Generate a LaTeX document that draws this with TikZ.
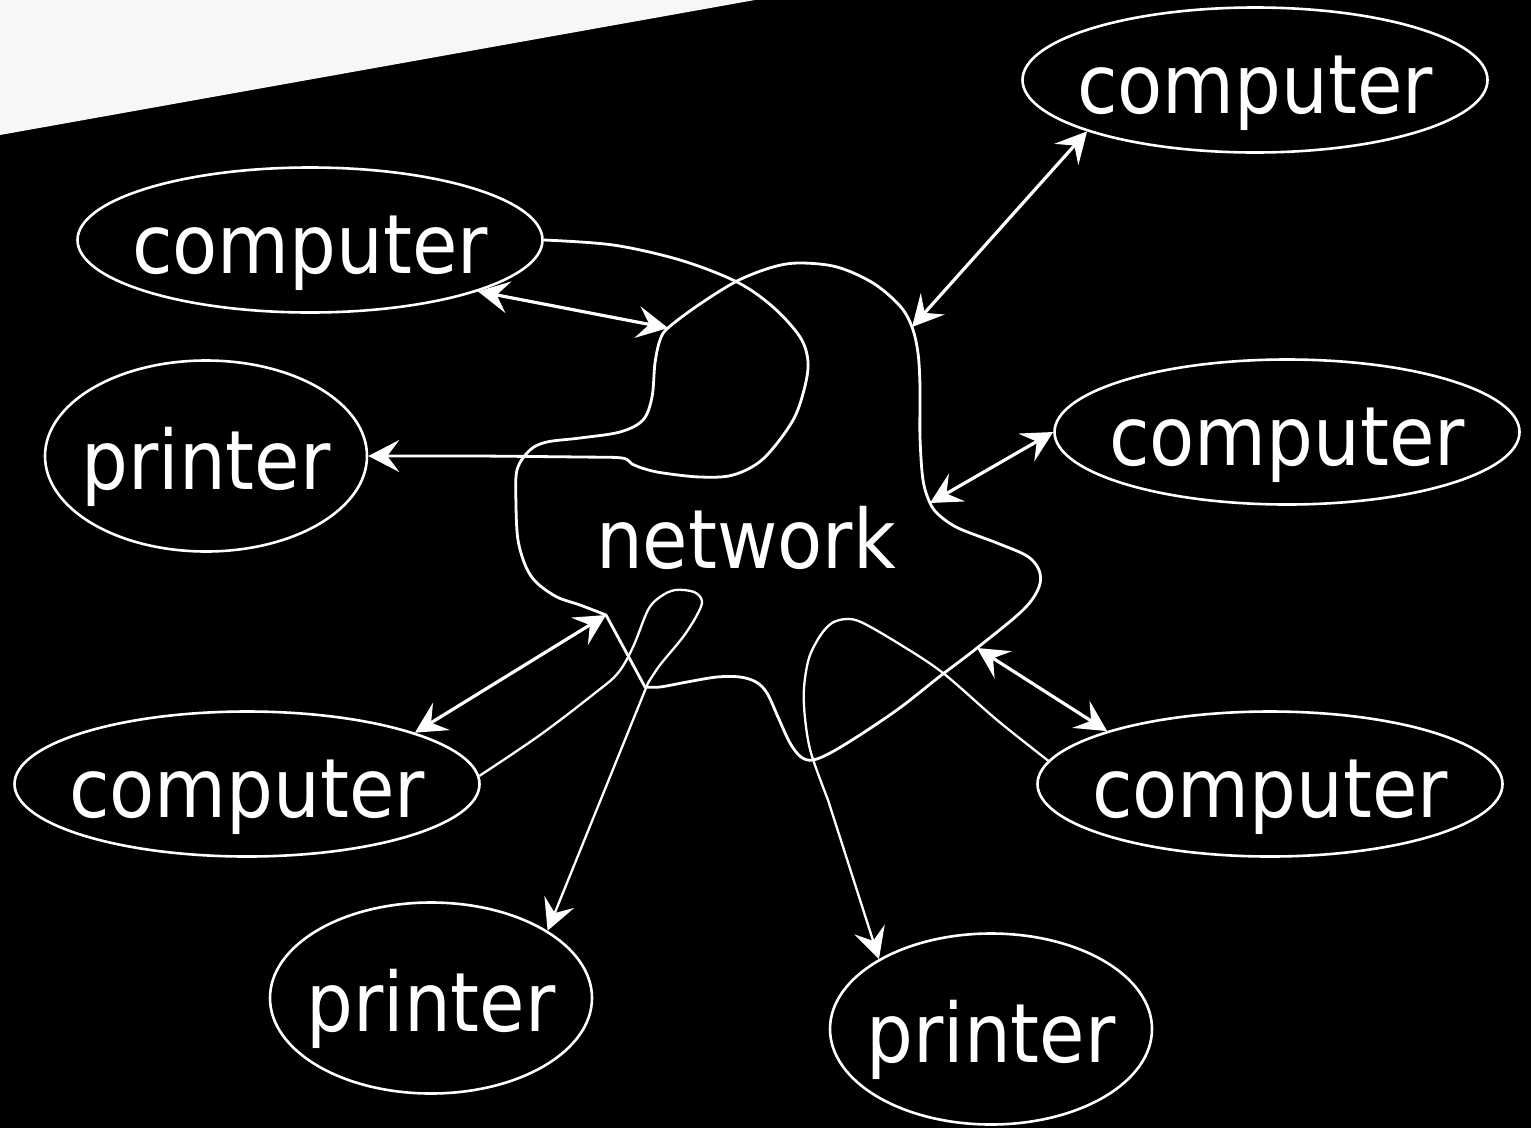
\documentclass[tikz,border=0pt]{standalone}
\usepackage{fontspec}
\newfontfamily\netfont{DejaVu Sans}[FakeStretch=0.9]
\usepackage{tikz}
\usetikzlibrary{shapes.geometric,arrows.meta}
\definecolor{paper}{RGB}{247,247,247}
\tikzstyle{device} = [ellipse, draw=white, line width=2.6pt, text=white, inner xsep=-20pt, inner ysep=0pt, font=\netfont\fontsize{82pt}{90pt}\selectfont, text height=66pt, text depth=0pt]
\tikzstyle{computer} = [device, minimum width=465pt, minimum height=145pt]
\tikzstyle{printer} = [device, minimum width=322pt, minimum height=191pt]
\tikzstyle{link} = [line width=3.2pt, white, {Stealth[length=31pt,width=32pt,inset=12pt]}-{Stealth[length=31pt,width=32pt,inset=12pt]}]
\tikzstyle{wire} = [line width=2.8pt, white, -{Stealth[length=31pt,width=32pt,inset=12pt]}]
\tikzstyle{blob} = [line width=2.8pt, white]

\begin{document}
\begin{tikzpicture}[x=1pt,y=-1pt]
\useasboundingbox (0,0) rectangle (1531,1128);
\fill[black] (0,0) rectangle (1531,1128);
\fill[paper] (0,0) -- (755,0) -- (0,135) -- cycle;

% Devices
\node[computer] (tlc) at (310,240) {computer};
\node[computer] (trc) at (1255,80) {computer};
\node[computer] (rc) at (1287,432) {computer};
\node[computer] (brc) at (1270,784) {computer};
\node[computer] (blc) at (247,784) {computer};
\node[printer] (lpr) at (206,456) {printer};
\node[printer] (blp) at (431,998) {printer};
\node[printer] (brp) at (991,1029) {printer};

% Network cloud
\node[text=white, font=\netfont\fontsize{82pt}{90pt}\selectfont, anchor=base, inner sep=0pt] (net) at (746,568) {network};
\draw[blob] plot[smooth, tension=0.55] coordinates {(606,615) (580,605) (557,597) (537,583) (526,567) (518,540) (516,505) (517,470) (530,450) (547,442) (580,438) (620,432) (643,420) (652,397) (655,363) (660,340) (668,328) (697,306) (737,281) (773,267) (800,263) (837,267) (873,283) (900,306) (912,327) (918,353) (920,387) (920,437) (923,480) (930,503) (939,515) (958,528) (997,543) (1027,556) (1039,570) (1039,587) (1023,610) (977,648) (939,677) (901,707) (863,733) (832,752) (813,760) (801,757) (790,743) (778,717) (767,693) (756,682) (740,677) (717,677) (687,682) (660,687) (645,687)} -- cycle;
\coordinate (b1) at (668,328);
\coordinate (b2) at (912,327);
\coordinate (b3) at (930,503);
\coordinate (b4) at (977,648);
\coordinate (b5) at (606,615);

% Links to the cloud
\draw[link] (tlc.-17.3) -- (b1);
\draw[link] (trc.197.5) -- (b2);
\draw[link] (rc.180) -- (b3);
\draw[link] (brc.162.5) -- (b4);
\draw[link] (blc.17.4) -- (b5);

% Printing paths
\draw[wire] plot[smooth, tension=0.55] coordinates {(tlc.east) (613,245) (680,260) (737,282) (773,307) (800,337) (808,362) (804,390) (792,422) (763,459) (733,475) (700,477) (663,473) (645,469) (632,464) (622,458) (580,457) (480,456)} -- (lpr.east);
\draw[wire, line width=2.3pt] plot[smooth, tension=0.55] coordinates {(blc.2) (540,735) (595,693) (618,673) (633,647) (648,610) (660,597) (675,590) (694,592) (702,601) (697,615) (683,637) (660,665) (648,683)} -- (blp.30.8);
\draw[wire, line width=2.3pt] plot[smooth, tension=0.55] coordinates {(brc.174.4) (997,720) (943,673) (901,645) (863,623) (847,619) (832,623) (820,636) (809,658) (804,688) (805,718) (811,753) (828,800)} -- (brp.148);
\end{tikzpicture}
\end{document}
